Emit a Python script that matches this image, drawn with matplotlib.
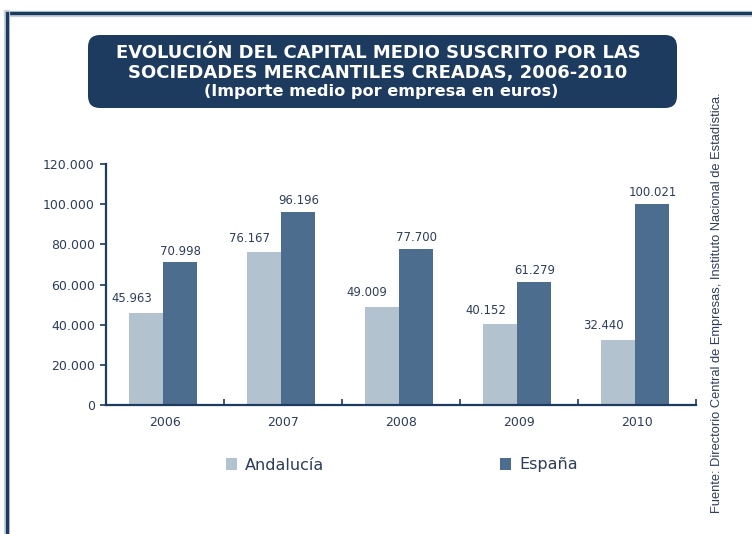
#!/usr/bin/env python3
import numpy as np
from matplotlib import pyplot as plt
from matplotlib.patches import FancyBboxPatch
from matplotlib.lines import Line2D
from matplotlib.ticker import FuncFormatter

# data
years = ["2006", "2007", "2008", "2009", "2010"]
andalucia = [45963, 76167, 49009, 40152, 32440]
espana = [70998, 96196, 77700, 61279, 100021]
series_names = ["Andalucía", "España"]

navy = "#1d3a5f"
text_col = "#2b3d5a"
col_and = "#b3c2cf"
col_esp = "#4d6d8e"


def miles(v):
    # 120000 -> "120.000"
    return f"{int(round(v)):,}".replace(",", ".")


W, H = 752, 534
fig = plt.figure(figsize=(7.52, 5.34), dpi=100)
fig.patch.set_facecolor("white")

ax = fig.add_axes([106 / W, 1 - 405 / H, 590 / W, 241 / H])

x = np.arange(len(years))
w = 0.29
b1 = ax.bar(x - w / 2 - 0.015, andalucia, width=w, color=col_and, label=series_names[0])
b2 = ax.bar(x + w / 2 - 0.015, espana, width=w, color=col_esp, label=series_names[1])

# Andalucía labels sit a bit to the left of their bars
for r, v in zip(b1, andalucia):
    ax.text(r.get_x() + r.get_width() / 2 - 0.125, v + 5200, miles(v),
            ha="center", va="baseline", fontsize=8.4, color=text_col)
for r, v in zip(b2, espana):
    ax.text(r.get_x() + r.get_width() / 2, v + 3800, miles(v),
            ha="center", va="baseline", fontsize=8.4, color=text_col)

ax.set_ylim(0, 120000)
ax.set_xlim(-0.5, len(years) - 0.5)
ax.set_yticks(np.arange(0, 120001, 20000))
ax.yaxis.set_major_formatter(FuncFormatter(lambda v, p: miles(v)))

# year labels sit between boundary ticks
ax.set_xticks(np.arange(0.5, len(years), 1.0))
ax.set_xticklabels([])
ax.set_xticks(x, minor=True)
ax.set_xticklabels(years, minor=True)
ax.tick_params(axis="x", which="major", direction="in", length=4, color=navy, width=1.2)
ax.tick_params(axis="x", which="minor", length=0, pad=8, labelsize=9, labelcolor=text_col)
ax.tick_params(axis="y", direction="out", length=4, color=navy, width=1.2,
               labelsize=9, labelcolor=text_col, pad=4)

for s in ("top", "right"):
    ax.spines[s].set_visible(False)
for s in ("left", "bottom"):
    ax.spines[s].set_color(navy)
    ax.spines[s].set_linewidth(1.6)

fig.legend(handles=[b1, b2], loc="center", bbox_to_anchor=(402 / W, 1 - 465 / H),
           ncol=2, frameon=False, fontsize=11.5, handlelength=0.7, handleheight=0.7,
           handletextpad=0.5, columnspacing=11.0, labelcolor=text_col)

# outer frame lines (top and left)
fig.add_artist(Line2D([7 / W, 1.0], [1 - 14 / H] * 2, color="#c9d2dc", lw=4.5))
fig.add_artist(Line2D([7 / W, 1.0], [1 - 13 / H] * 2, color=navy, lw=2.4))
fig.add_artist(Line2D([7 / W] * 2, [0, 1 - 13 / H], color="#c9d2dc", lw=4.5))
fig.add_artist(Line2D([7 / W] * 2, [0, 1 - 13 / H], color=navy, lw=2.4))

# title box
box = FancyBboxPatch((88 / W, 1 - 108 / H), 589 / W, 73 / H,
                     boxstyle="round,pad=0,rounding_size=0.016",
                     transform=fig.transFigure, facecolor=navy, edgecolor="none",
                     mutation_aspect=W / H)
fig.add_artist(box)
fig.text(378 / W, 1 - 58 / H, "EVOLUCIÓN DEL CAPITAL MEDIO SUSCRITO POR LAS",
         ha="center", va="baseline", color="white", fontsize=13.0, fontweight="bold")
fig.text(378 / W, 1 - 78 / H, "SOCIEDADES MERCANTILES CREADAS, 2006-2010",
         ha="center", va="baseline", color="white", fontsize=13.0, fontweight="bold")
fig.text(381 / W, 1 - 96 / H, "(Importe medio por empresa en euros)",
         ha="center", va="baseline", color="white", fontsize=11.6, fontweight="bold")

fig.text(717 / W, 1 - 303 / H,
         "Fuente: Directorio Central de Empresas, Instituto Nacional de Estadística.",
         rotation=90, ha="center", va="center", fontsize=9.3, color=text_col,
         family="Liberation Sans")

fig.savefig("out.png", dpi=100)
